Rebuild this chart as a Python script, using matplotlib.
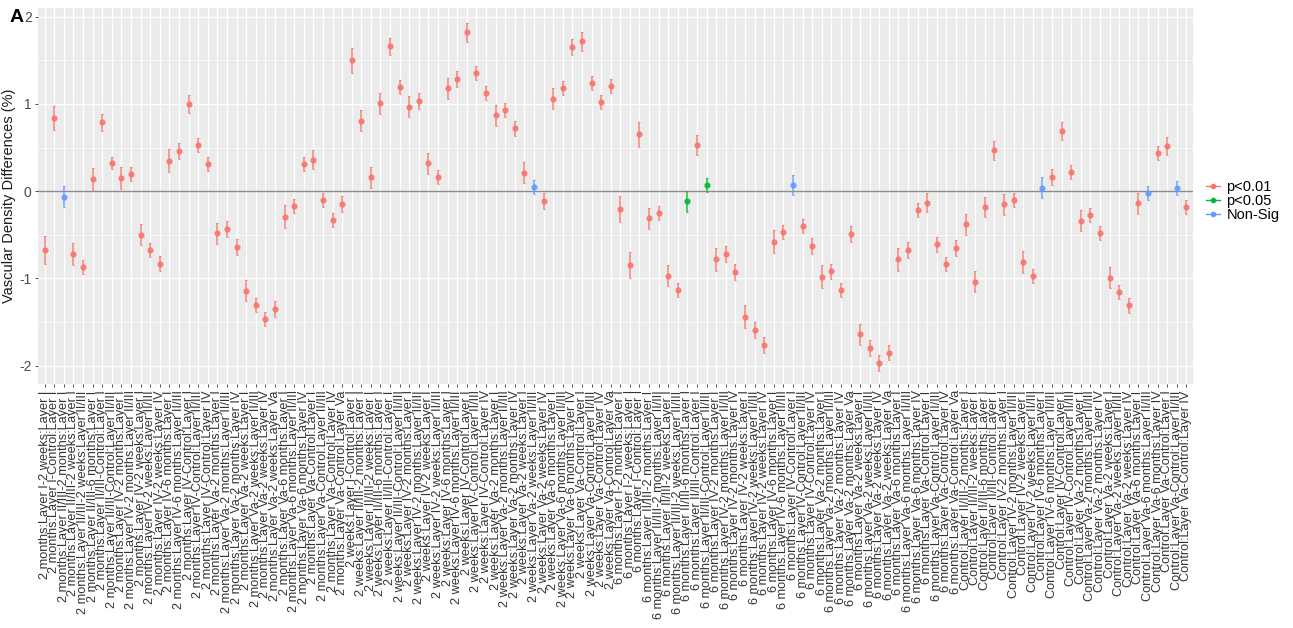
import matplotlib
matplotlib.use("Agg")
import matplotlib.pyplot as plt
from matplotlib.lines import Line2D
import numpy as np

plt.rcParams['font.family'] = ['Liberation Sans', 'DejaVu Sans']

# Factor levels (R factor order); comparisons are all pairs "later-earlier", sorted alphabetically
ages = ["Control", "2 weeks", "2 months", "6 months"]
layers = ["Layer I", "Layer II/III", "Layer IV", "Layer Va"]
levels = [f"{a}:{l}" for l in layers for a in ages]
labels = sorted(f"{levels[j]}-{levels[i]}" for j in range(len(levels)) for i in range(j))

diff = [
    -0.67, 0.84, -0.065, -0.72, -0.87, 0.14, 0.79, 0.32, 0.15, 0.20,
    -0.50, -0.67, -0.83, 0.35, 0.46, 1.00, 0.53, 0.31, -0.48, -0.43,
    -0.64, -1.14, -1.30, -1.47, -1.35, -0.29, -0.17, 0.31, 0.36, -0.10,
    -0.33, -0.15, 1.50, 0.81, 0.16, 1.01, 1.66, 1.19, 0.97, 1.03,
    0.32, 0.16, 1.18, 1.29, 1.82, 1.36, 1.13, 0.87, 0.93, 0.72,
    0.21, 0.05, -0.11, 1.06, 1.18, 1.65, 1.72, 1.24, 1.02, 1.21,
    -0.20, -0.85, 0.65, -0.31, -0.25, -0.97, -1.13, -0.115, 0.53, 0.07,
    -0.78, -0.72, -0.93, -1.44, -1.59, -1.76, -0.58, -0.47, 0.07, -0.40,
    -0.63, -0.98, -0.92, -1.13, -0.49, -1.64, -1.80, -1.97, -1.85, -0.78,
    -0.67, -0.21, -0.13, -0.61, -0.83, -0.65, -0.38, -1.04, -0.18, 0.47,
    -0.15, -0.10, -0.81, -0.97, 0.04, 0.16, 0.69, 0.22, -0.34, -0.27,
    -0.48, -0.99, -1.15, -1.31, -0.14, -0.02, 0.44, 0.52, 0.04, -0.18,
]

err = [
    0.16, 0.14, 0.12, 0.13, 0.08, 0.13, 0.10, 0.07, 0.13, 0.08,
    0.12, 0.08, 0.09, 0.13, 0.09, 0.10, 0.08, 0.08, 0.12, 0.09,
    0.09, 0.12, 0.08, 0.08, 0.09, 0.13, 0.08, 0.08, 0.11, 0.08,
    0.08, 0.09, 0.14, 0.12, 0.12, 0.12, 0.10, 0.08, 0.12, 0.09,
    0.12, 0.08, 0.12, 0.09, 0.11, 0.08, 0.08, 0.12, 0.08, 0.09,
    0.12, 0.08, 0.09, 0.12, 0.08, 0.09, 0.11, 0.08, 0.08, 0.08,
    0.15, 0.15, 0.14, 0.12, 0.08, 0.12, 0.08, 0.12, 0.11, 0.08,
    0.13, 0.09, 0.09, 0.13, 0.09, 0.09, 0.13, 0.08, 0.11, 0.08,
    0.09, 0.13, 0.09, 0.08, 0.09, 0.12, 0.09, 0.09, 0.09, 0.13,
    0.09, 0.08, 0.11, 0.09, 0.08, 0.09, 0.12, 0.12, 0.11, 0.11,
    0.12, 0.08, 0.13, 0.08, 0.12, 0.09, 0.10, 0.08, 0.12, 0.08,
    0.08, 0.12, 0.08, 0.09, 0.12, 0.08, 0.08, 0.10, 0.08, 0.08,
]

sig = ["p<0.01"] * 120
for k in [2, 51, 78, 104, 115, 118]:
    sig[k] = "Non-Sig"
for k in [67, 69]:
    sig[k] = "p<0.05"

sig_order = ["p<0.01", "p<0.05", "Non-Sig"]
colors = {"p<0.01": "#F8766D", "p<0.05": "#00BA38", "Non-Sig": "#619CFF"}

fig = plt.figure(figsize=(12.93, 6.28), dpi=100)
ax = fig.add_axes([38/1293, 1-384/628, (1193-38)/1293, (384-8)/628])
ax.set_facecolor("#EBEBEB")

x = np.arange(len(labels))
ax.set_xlim(-0.7, len(labels) - 0.3)
ax.set_ylim(-2.21, 2.10)

# grid
for yv in [-1.5, -0.5, 0.5, 1.5]:
    ax.axhline(yv, color="white", lw=0.5, zorder=0)
for yv in [-2, -1, 0, 1, 2]:
    ax.axhline(yv, color="white", lw=1.0, zorder=0)
for xv in x:
    ax.axvline(xv, color="white", lw=0.9, zorder=0)
ax.axhline(0, color="#8C8C8C", lw=1.0, zorder=1)

d = np.array(diff)
e = np.array(err)
for s in sig_order:
    idx = np.array([i for i in range(len(sig)) if sig[i] == s])
    if len(idx) == 0:
        continue
    ax.errorbar(idx, d[idx], yerr=e[idx], fmt="o", color=colors[s], ms=3.4,
                elinewidth=1.1, capsize=1.0, capthick=0.8, alpha=0.9, zorder=3)

for sp in ax.spines.values():
    sp.set_visible(False)

ax.set_yticks([-2, -1, 0, 1, 2])
ax.set_yticklabels(["-2", "-1", "0", "1", "2"], fontsize=10, color="#4D4D4D")
ax.set_xticks(x)
ax.set_xticklabels(labels, rotation=90, fontsize=9.2, color="#333333", ha="center", va="top")
ax.tick_params(axis="both", length=2.5, width=0.6, color="#333333", pad=2)
ax.set_ylabel("Vascular Density Differences (%)", fontsize=10.5, color="#1A1A1A", labelpad=2)

fig.text(10/1293, 1-18/628, "A", fontsize=14, fontweight="bold", va="center", ha="left")

handles = [Line2D([0], [0], color=colors[s], marker="o", ms=3, lw=1.0) for s in sig_order]
leg = fig.legend(handles, sig_order, loc="center left", bbox_to_anchor=(1200/1293, 1-201/628),
                 frameon=False, fontsize=10.5, handlelength=1.0, handletextpad=0.4,
                 labelspacing=0.0, borderaxespad=0)

fig.savefig("out.png", dpi=100)
